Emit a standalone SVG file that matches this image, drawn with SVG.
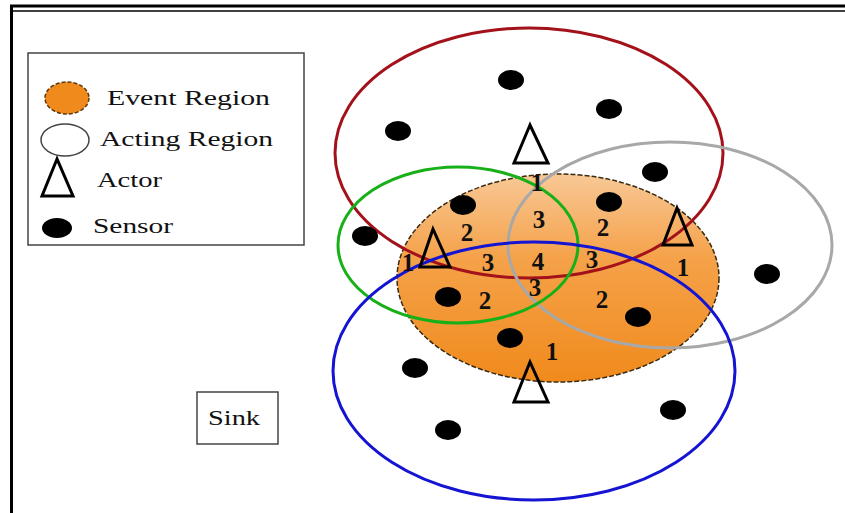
<svg xmlns="http://www.w3.org/2000/svg" width="845" height="513" viewBox="0 0 845 513">
<defs>
<linearGradient id="og" x1="0" y1="0" x2="0" y2="1">
<stop offset="0" stop-color="#f8c896"/>
<stop offset="0.4" stop-color="#f5a24a"/>
<stop offset="1" stop-color="#f08a1c"/>
</linearGradient>
</defs>
<style>
.t{font-family:"Liberation Serif","Times New Roman",serif;fill:#111}
.lg{font-size:21px}
.n{font-size:25px;font-weight:bold;text-anchor:middle}
.s{fill:#000}
.a{fill:none;stroke:#000;stroke-width:3;stroke-linejoin:miter}
.r{fill:none;stroke-width:3}
</style>
<rect width="845" height="513" fill="#fff"/>
<g id="frame" stroke="#000" fill="none">
<line x1="10" y1="6" x2="845" y2="6" stroke-width="3"/>
<line x1="10" y1="11" x2="845" y2="11" stroke-width="1.5"/>
<line x1="11.5" y1="5" x2="11.5" y2="513" stroke-width="3"/>
</g>
<g id="event-region">
<ellipse cx="558" cy="278" rx="161" ry="104" fill="url(#og)" stroke="#3a2a10" stroke-width="1.5" stroke-dasharray="5 2"/>
</g>
<g id="acting-regions">
<ellipse id="red-region" class="r" cx="529" cy="153" rx="194" ry="125" stroke="#a3121a"/>
<ellipse id="gray-region" class="r" cx="670" cy="245" rx="162" ry="103" stroke="#a8a8a8"/>
<ellipse id="green-region" class="r" cx="458" cy="245" rx="120" ry="78" stroke="#18b018"/>
<ellipse id="blue-region" class="r" cx="534" cy="371" rx="201" ry="129" stroke="#1414d2"/>
</g>
<g id="sensors">
<ellipse class="s" cx="511" cy="80" rx="13" ry="10"/>
<ellipse class="s" cx="609" cy="109" rx="13" ry="10"/>
<ellipse class="s" cx="398" cy="131" rx="13" ry="10"/>
<ellipse class="s" cx="655" cy="172" rx="13" ry="10"/>
<ellipse class="s" cx="463" cy="205" rx="13" ry="10"/>
<ellipse class="s" cx="609" cy="202" rx="13" ry="10"/>
<ellipse class="s" cx="365" cy="236" rx="13" ry="10"/>
<ellipse class="s" cx="448" cy="297" rx="13" ry="10"/>
<ellipse class="s" cx="638" cy="317" rx="13" ry="10"/>
<ellipse class="s" cx="510" cy="338" rx="13" ry="10"/>
<ellipse class="s" cx="767" cy="274" rx="13" ry="10"/>
<ellipse class="s" cx="415" cy="368" rx="13" ry="10"/>
<ellipse class="s" cx="448" cy="430" rx="13" ry="10"/>
<ellipse class="s" cx="673" cy="410" rx="13" ry="10"/>
</g>
<g id="counts">
<text class="t n" x="537" y="191">1</text>
<text class="t n" x="539" y="228">3</text>
<text class="t n" x="603" y="236">2</text>
<text class="t n" x="467" y="241">2</text>
<text class="t n" x="408" y="271">1</text>
<text class="t n" x="488" y="271">3</text>
<text class="t n" x="538" y="270">4</text>
<text class="t n" x="592" y="268">3</text>
<text class="t n" x="683" y="276">1</text>
<text class="t n" x="535" y="296">3</text>
<text class="t n" x="485" y="309">2</text>
<text class="t n" x="602" y="308">2</text>
<text class="t n" x="552" y="360">1</text>
</g>
<g id="actors">
<polygon id="actor-top" class="a" points="530,125 514,163 548,163"/>
<polygon id="actor-left" class="a" points="433,229 420,267 450,267"/>
<polygon id="actor-right" class="a" points="677,208 663,245 692,245"/>
<polygon id="actor-bottom" class="a" points="530,362 514,402 548,402"/>
</g>
<g id="legend">
<rect x="28" y="53" width="276" height="192" fill="none" stroke="#444" stroke-width="1.5"/>
<ellipse cx="67" cy="98" rx="22" ry="16" fill="#f08a1c" stroke="#5a3a10" stroke-width="1.5" stroke-dasharray="4 2"/>
<text class="t lg" x="107" y="105" textLength="163" lengthAdjust="spacingAndGlyphs">Event Region</text>
<ellipse cx="65" cy="140" rx="24" ry="16" fill="#fff" stroke="#444" stroke-width="1.5"/>
<text class="t lg" x="100" y="146" textLength="173" lengthAdjust="spacingAndGlyphs">Acting Region</text>
<polygon class="a" points="57,159 42,196 73,196"/>
<text class="t lg" x="97" y="187" textLength="65" lengthAdjust="spacingAndGlyphs">Actor</text>
<ellipse class="s" cx="57" cy="228" rx="15" ry="10"/>
<text class="t lg" x="93" y="233" textLength="80" lengthAdjust="spacingAndGlyphs">Sensor</text>
</g>
<g id="sink">
<rect x="197" y="392" width="81" height="52" fill="#fff" stroke="#444" stroke-width="1.5"/>
<text class="t lg" x="208" y="425" textLength="52" lengthAdjust="spacingAndGlyphs">Sink</text>
</g>
</svg>
